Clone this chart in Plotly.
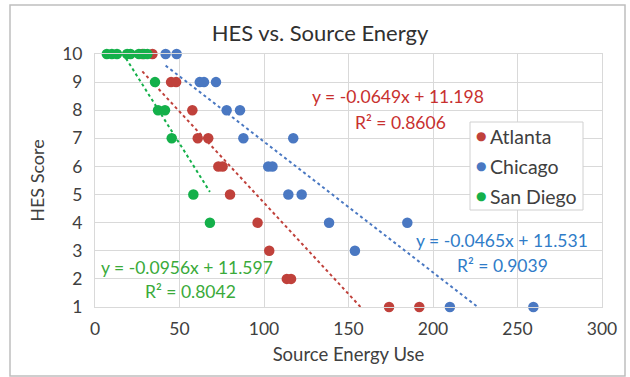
import plotly.graph_objects as go

# ---- data ----
atl_x = [28, 34, 45, 48, 57.6, 60.8, 67, 73, 75.5, 79.9, 96.2, 103.1, 113.5, 116, 174, 191.9]
atl_y = [10, 10, 9, 9, 8, 7, 7, 6, 6, 5, 4, 3, 2, 2, 1, 1]
chi_x = [41.8, 48.3, 62, 64.5, 71.6, 77.9, 85.8, 87.8, 117.3, 102.5, 105, 114.4, 122.3, 138.5, 184.8, 153.8, 210, 259.4]
chi_y = [10, 10, 9, 9, 9, 8, 8, 7, 7, 6, 6, 5, 5, 4, 4, 3, 1, 1]
sd_x = [7, 10, 13, 19, 21, 26, 29, 31, 35.5, 37.3, 41.4, 45.4, 58.2, 68]
sd_y = [10, 10, 10, 10, 10, 10, 10, 10, 9, 8, 8, 7, 5, 4]

series_names = ["Atlanta", "Chicago", "San Diego"]
slopes = [-0.0649, -0.0465, -0.0956]
intercepts = [11.198, 11.531, 11.597]
r2 = [0.8606, 0.9039, 0.8042]
colors = ["#C0413B", "#4A78C2", "#14B04A"]
text_colors = ["#C8302F", "#2F7CC8", "#3AAA3A"]

x_ticks = [0, 50, 100, 150, 200, 250, 300]
y_ticks = list(range(1, 11))

W, H = 630, 377
L, R, T, B = 95, 602, 54, 307


def px(xp):
    return (xp - L) / (R - L)


def py(yp):
    return (B - yp) / (B - T)


fig = go.Figure()
xs = [atl_x, chi_x, sd_x]
ys = [atl_y, chi_y, sd_y]
for i, name in enumerate(series_names):
    x0, x1 = min(xs[i]), max(xs[i])
    fig.add_trace(go.Scatter(
        x=[x0, x1], y=[slopes[i] * x0 + intercepts[i], slopes[i] * x1 + intercepts[i]],
        mode="lines", line=dict(color=colors[i], width=2, dash="dot"),
        showlegend=False, hoverinfo="skip"))
for i, name in enumerate(series_names):
    fig.add_trace(go.Scatter(
        x=xs[i], y=ys[i], mode="markers", name=name, showlegend=False,
        marker=dict(color=colors[i], size=10.5, line=dict(width=0)),
        cliponaxis=False))

font_family = "Lato, 'Open Sans', sans-serif"

ann = [
    (f"y = {slopes[0]}x + {intercepts[0]}", 398, 96, 0),
    (f"R² = {r2[0]}", 400, 122, 0),
    (f"y = {slopes[1]}x + {intercepts[1]}", 502, 240, 1),
    (f"R² = {r2[1]}", 502, 265, 1),
    (f"y = {slopes[2]}x + {intercepts[2]}", 187, 267, 2),
    (f"R² = {r2[2]}", 190, 291, 2),
]
annotations = []
for t, xpix, ypix, ci in ann:
    annotations.append(dict(text=t, x=px(xpix), y=py(ypix), xref="paper", yref="paper",
                            showarrow=False, xanchor="center", yanchor="middle",
                            font=dict(size=17.5, color=text_colors[ci], family=font_family)))

# custom legend
leg_y = [136, 166, 196]
for i, name in enumerate(series_names):
    annotations.append(dict(text="●", x=px(481), y=py(leg_y[i]), xref="paper", yref="paper",
                            showarrow=False, xanchor="center", yanchor="middle",
                            font=dict(size=12, color=colors[i], family="DejaVu Sans")))
    annotations.append(dict(text=name, x=px(488), y=py(leg_y[i]), xref="paper", yref="paper",
                            showarrow=False, xanchor="left", yanchor="middle",
                            font=dict(size=19.5, color="#404040", family=font_family)))

fig.update_layout(
    width=W, height=H,
    margin=dict(l=L, r=W - R, t=T, b=H - B, pad=0),
    paper_bgcolor="white", plot_bgcolor="white",
    font=dict(family=font_family, color="#404040"),
    showlegend=False,
    title=dict(text="HES vs. Source Energy", x=320 / W, xanchor="center",
               y=1 - 33 / H, yanchor="middle", font=dict(size=22, color="#303030")),
    xaxis=dict(range=[0, 300], tickvals=x_ticks, showgrid=True, gridcolor="#D9D9D9",
               zeroline=False, showline=True, linecolor="#D9D9D9", mirror=True,
               ticks="", tickfont=dict(size=17.5, color="#404040"), ticklabelstandoff=6,
               title=dict(text="Source Energy Use", font=dict(size=18.5, color="#404040"), standoff=10)),
    yaxis=dict(range=[1, 10], tickvals=y_ticks, showgrid=True, gridcolor="#D9D9D9",
               zeroline=False, showline=True, linecolor="#D9D9D9", mirror=True,
               ticks="", tickfont=dict(size=17.5, color="#404040"), ticklabelstandoff=8,
               title=dict(text="HES Score", font=dict(size=18, color="#404040"), standoff=12)),
    annotations=annotations,
    shapes=[dict(type="rect", xref="paper", yref="paper",
                 x0=px(10), x1=px(625), y0=py(376), y1=py(5),
                 line=dict(color="#BFBFBF", width=1.5), fillcolor="rgba(0,0,0,0)", layer="below"),
            dict(type="rect", xref="paper", yref="paper",
                 x0=px(470), x1=px(583), y0=py(210), y1=py(122),
                 line=dict(color="#D0D0D0", width=1), fillcolor="white", layer="above")],
)

fig.write_html("out.html")
